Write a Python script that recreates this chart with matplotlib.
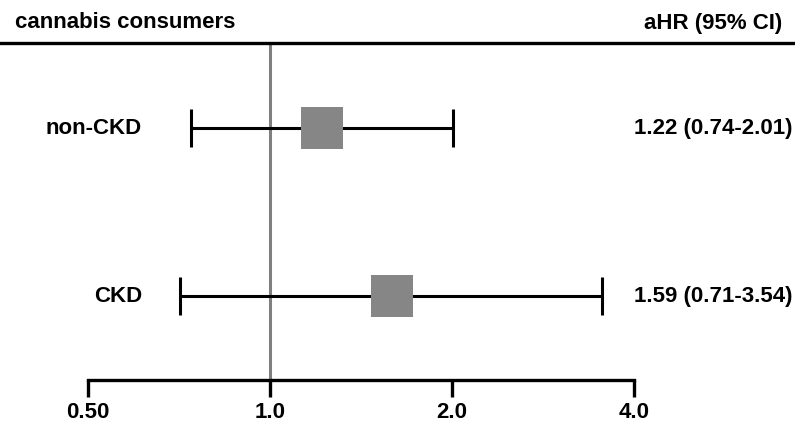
import matplotlib
matplotlib.use("Agg")
import matplotlib.pyplot as plt
from matplotlib.lines import Line2D
from matplotlib.transforms import blended_transform_factory

# data
groups = ["non-CKD", "CKD"]
hr = [1.22, 1.59]
ci_low = [0.74, 0.71]
ci_high = [2.01, 3.54]
hr_labels = ["1.22 (0.74-2.01)", "1.59 (0.71-3.54)"]
xticks = [0.5, 1.0, 2.0, 4.0]
xtick_labels = ["0.50", "1.0", "2.0", "4.0"]

plt.rcParams["font.family"] = ["Liberation Sans", "DejaVu Sans"]
plt.rcParams["font.weight"] = "bold"

W, H = 795, 423
fig = plt.figure(figsize=(W / 100, H / 100), dpi=100)
# axes box in pixels: x 88..634, y 43..380
ax = fig.add_axes([88 / W, 1 - 380 / H, (634 - 88) / W, (380 - 43) / H])

ypos = [2, 1]
ax.set_xscale("log", base=2)
ax.set_xlim(0.5, 4.0)
ax.set_ylim(0.5, 2.506)

# reference line at HR = 1
ax.axvline(1.0, color="#808080", linewidth=2.2, zorder=1)

xerr = [[h - lo for h, lo in zip(hr, ci_low)], [hi - h for h, hi in zip(hr, ci_high)]]
ax.errorbar(hr, ypos, xerr=xerr, fmt="none", ecolor="black", elinewidth=2.2,
            capsize=13.5, capthick=2.2, zorder=2)
ax.plot(hr, ypos, linestyle="none", marker="s", markersize=30.5,
        markerfacecolor="#868686", markeredgewidth=0, zorder=3)

# row labels and estimates
row_tr = blended_transform_factory(fig.transFigure, ax.transData)
for y, name, lab in zip(ypos, groups, hr_labels):
    ax.text(142 / W, y, name, transform=row_tr, ha="right", va="center",
            fontsize=16, fontweight="bold")
    ax.text(792 / W, y, lab, transform=row_tr, ha="right", va="center",
            fontsize=16, fontweight="bold")

# headers and top rule
fig.text(15 / W, 1 - 23 / H, "cannabis consumers", ha="left", va="center",
         fontsize=16, fontweight="bold")
fig.text(782 / W, 1 - 23 / H, "aHR (95% CI)", ha="right", va="center",
         fontsize=16, fontweight="bold")
fig.add_artist(Line2D([0, 1], [1 - 43 / H, 1 - 43 / H], transform=fig.transFigure,
                      color="black", linewidth=2.4))

# axis styling
for s in ["top", "right", "left"]:
    ax.spines[s].set_visible(False)
ax.spines["bottom"].set_linewidth(2.4)
ax.set_yticks([])
ax.set_xticks(xticks)
ax.set_xticklabels(xtick_labels, fontsize=16, fontweight="bold")
ax.xaxis.set_minor_locator(plt.NullLocator())
ax.tick_params(axis="x", direction="out", length=12.5, width=2.4, pad=3.5)

fig.savefig("out.png", dpi=100)
